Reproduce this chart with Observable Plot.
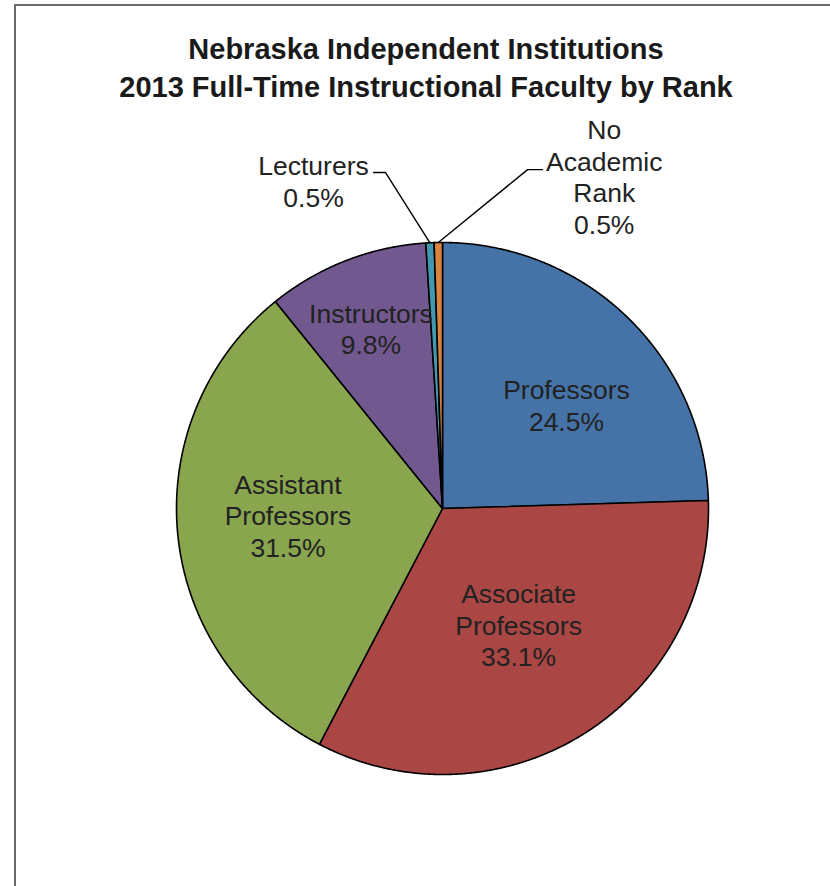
<!DOCTYPE html>
<html><head><meta charset="utf-8">
<script src="https://cdn.jsdelivr.net/npm/d3@7"></script>
<script src="https://cdn.jsdelivr.net/npm/@observablehq/plot@0.6"></script>
<style>
body{margin:0;background:#fff;}
#wrap{position:relative;width:830px;height:886px;overflow:hidden;font-family:"Liberation Sans",Arial,sans-serif;}
#frame{position:absolute;left:14px;top:4px;width:900px;height:1000px;border-left:2px solid #6a6a6a;border-top:2px solid #6a6a6a;}
#chart{position:absolute;left:0;top:0;}
#title{position:absolute;left:22px;right:0;top:30px;text-align:center;font-weight:bold;font-size:29px;line-height:38px;color:#1a1a1a;}
</style></head><body>
<div id="wrap"><div id="frame"></div><div id="chart"></div><div id="title">Nebraska Independent Institutions<br>2013 Full-Time Instructional Faculty by Rank</div></div>
<script>
const categories = ["Professors","Associate Professors","Assistant Professors","Instructors","Lecturers","No Academic Rank"];
const values = [24.5, 33.1, 31.5, 9.8, 0.5, 0.5];
const colors = ["#4572A7","#AA4643","#89A54E","#71588F","#4198AF","#DB843D"];
const labels = ["Professors\n24.5%","Associate\nProfessors\n33.1%","Assistant\nProfessors\n31.5%","Instructors\n9.8%","Lecturers\n0.5%","No\nAcademic\nRank\n0.5%"];

// layout (in pie-radius units, centre = 0,0)
const labelPos = [[0.466,0.389],[0.286,-0.436],[-0.581,-0.025],[-0.269,0.677],[-0.485,1.231],[0.608,1.249]];
const leaderStart = {4:[[-0.259,1.263],[-0.214,1.263]], 5:[[0.376,1.274],[0.320,1.274]]};

const W = 830, H = 886, cx = 442, cy = 508, R = 266;

const arcs = d3.pie().sort(null).value(d => d)(values);
const slices = arcs.map(p => {
  const pts = [[0,0]];
  const n = Math.max(2, Math.ceil((p.endAngle - p.startAngle) / 0.004));
  for (let k = 0; k <= n; k++) {
    const a = p.startAngle + (p.endAngle - p.startAngle) * k / n;
    pts.push([Math.sin(a), Math.cos(a)]);
  }
  pts.push([0,0]);
  return pts;
});

const labelData = categories.map((c,i) => ({cat:c, text:labels[i], x:labelPos[i][0], y:labelPos[i][1]}));

const leaders = Object.entries(leaderStart).map(([i, pts]) => {
  const p = arcs[+i];
  const a = (p.startAngle + p.endAngle) / 2;
  return [...pts, [Math.sin(a), Math.cos(a)]];
});

const chart = Plot.plot({
  width: W, height: H,
  marginTop: 0, marginBottom: 0, marginLeft: 0, marginRight: 0,
  x: {domain: [-cx / R, (W - cx) / R], axis: null},
  y: {domain: [-(H - cy) / R, cy / R], axis: null},
  style: {background: "transparent", fontFamily: "'Liberation Sans', Arial, sans-serif"},
  marks: [
    ...slices.map((pts, i) => Plot.line(pts, {x: d => d[0], y: d => d[1], fill: colors[i], stroke: "#000", strokeWidth: 1.6, strokeLinejoin: "round"})),
    ...leaders.map(pts => Plot.line(pts, {x: d => d[0], y: d => d[1], stroke: "#000", strokeWidth: 1.4})),
    Plot.text(labelData, {x: "x", y: "y", text: "text", fontSize: 26.5, lineHeight: 1.19, fill: "#222"})
  ]
});
document.getElementById("chart").appendChild(chart);
</script>
</body></html>
